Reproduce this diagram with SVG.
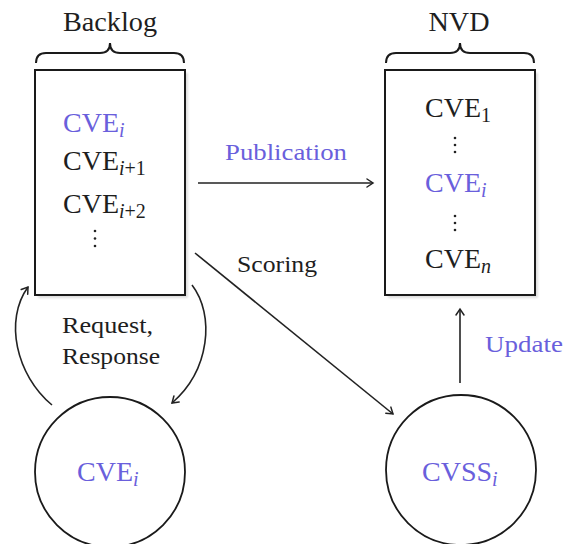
<svg xmlns="http://www.w3.org/2000/svg" width="564" height="544" viewBox="0 0 564 544" font-family="Liberation Serif">
  <style>
    text { fill: #1e1e1e; }
    .big { font-size: 28px; }
    .lbl { font-size: 24px; }
    .hl { fill: #6a5fdc; }
    .sub { font-size: 20px; }
    .it { font-style: italic; }
    .box { fill: #fff; stroke: #1a1a1a; stroke-width: 2; }
    .shadow { fill: #c8c8c8; opacity: 0.6; }
    .brace { fill: none; stroke: #1a1a1a; stroke-width: 2; }
    .edge { fill: none; stroke: #222; stroke-width: 1.6; }
    .node { fill: #fff; stroke: #1a1a1a; stroke-width: 1.8; }
    .dot { fill: #222; }
  </style>
  <defs>
    <marker id="arrow" markerUnits="userSpaceOnUse" markerWidth="14" markerHeight="14" refX="0" refY="0" viewBox="-8 -7 10 14" orient="auto">
      <path d="M-6,-4 Q-1.5,-1 0,0 Q-1.5,1 -6,4" fill="none" stroke="#222" stroke-width="1.5" stroke-linecap="round"/>
    </marker>
    <filter id="soft" x="-10%" y="-10%" width="130%" height="130%">
      <feGaussianBlur stdDeviation="1.2"/>
    </filter>
  </defs>

  <!-- Backlog list -->
  <g id="backlog">
    <text class="big" x="110" y="31" text-anchor="middle" textLength="94" lengthAdjust="spacingAndGlyphs">Backlog</text>
    <path class="brace" d="M36,63 Q36,53 46,53 L100,53 Q110,53 110,43 Q110,53 120,53 L174,53 Q184,53 184,63"/>
    <rect class="shadow" x="38" y="73" width="150" height="225" filter="url(#soft)"/>
    <rect class="box" x="35" y="70" width="150" height="225"/>
    <text class="big hl" x="63" y="132">CVE<tspan class="sub it" dy="5">i</tspan></text>
    <text class="big" x="63" y="170">CVE<tspan class="sub it" dy="5">i</tspan><tspan class="sub" dy="0">+1</tspan></text>
    <text class="big" x="63" y="213">CVE<tspan class="sub it" dy="5">i</tspan><tspan class="sub" dy="0">+2</tspan></text>
    <circle class="dot" cx="95" cy="231" r="1.3"/>
    <circle class="dot" cx="95" cy="238.5" r="1.3"/>
    <circle class="dot" cx="95" cy="246" r="1.3"/>
  </g>

  <!-- NVD list -->
  <g id="nvd">
    <text class="big" x="459" y="31" text-anchor="middle" textLength="61" lengthAdjust="spacingAndGlyphs">NVD</text>
    <path class="brace" d="M386,63 Q386,53 396,53 L450,53 Q460,53 460,43 Q460,53 470,53 L524,53 Q534,53 534,63"/>
    <rect class="shadow" x="388" y="73" width="150" height="225" filter="url(#soft)"/>
    <rect class="box" x="385" y="70" width="150" height="225"/>
    <text class="big" x="425" y="117">CVE<tspan class="sub" dy="5">1</tspan></text>
    <circle class="dot" cx="455" cy="138" r="1.3"/>
    <circle class="dot" cx="455" cy="145" r="1.3"/>
    <circle class="dot" cx="455" cy="152" r="1.3"/>
    <text class="big hl" x="425" y="192">CVE<tspan class="sub it" dy="5">i</tspan></text>
    <circle class="dot" cx="455" cy="216" r="1.3"/>
    <circle class="dot" cx="455" cy="223" r="1.3"/>
    <circle class="dot" cx="455" cy="230" r="1.3"/>
    <text class="big" x="425" y="268">CVE<tspan class="sub it" dy="5">n</tspan></text>
  </g>

  <!-- Single CVE entry -->
  <g id="cve-node">
    <circle class="node" cx="110" cy="472" r="75"/>
    <text class="big hl" x="77" y="481">CVE<tspan class="sub it" dy="5">i</tspan></text>
  </g>

  <!-- CVSS score -->
  <g id="cvss-node">
    <circle class="node" cx="461" cy="470" r="75"/>
    <text class="big hl" x="422" y="481">CVSS<tspan class="sub it" dy="5">i</tspan></text>
  </g>

  <!-- Connectors -->
  <g id="edges">
    <line class="edge" x1="198" y1="183" x2="373" y2="183" marker-end="url(#arrow)"/>
    <text class="lbl hl" x="286" y="160" text-anchor="middle" textLength="122" lengthAdjust="spacingAndGlyphs">Publication</text>

    <line class="edge" x1="195" y1="253" x2="393" y2="414" marker-end="url(#arrow)"/>
    <text class="lbl" x="277" y="272" text-anchor="middle" textLength="80" lengthAdjust="spacingAndGlyphs">Scoring</text>

    <path class="edge" d="M52,405 C16,375 4,320 28,287" marker-end="url(#arrow)"/>
    <path class="edge" d="M192,285 C215,315 210,370 172,403" marker-end="url(#arrow)"/>
    <text class="lbl" x="62" y="333" textLength="91" lengthAdjust="spacingAndGlyphs">Request,</text>
    <text class="lbl" x="62" y="364" textLength="98" lengthAdjust="spacingAndGlyphs">Response</text>

    <line class="edge" x1="460" y1="383" x2="460" y2="309" marker-end="url(#arrow)"/>
    <text class="lbl hl" x="485" y="352" textLength="78" lengthAdjust="spacingAndGlyphs">Update</text>
  </g>
</svg>
